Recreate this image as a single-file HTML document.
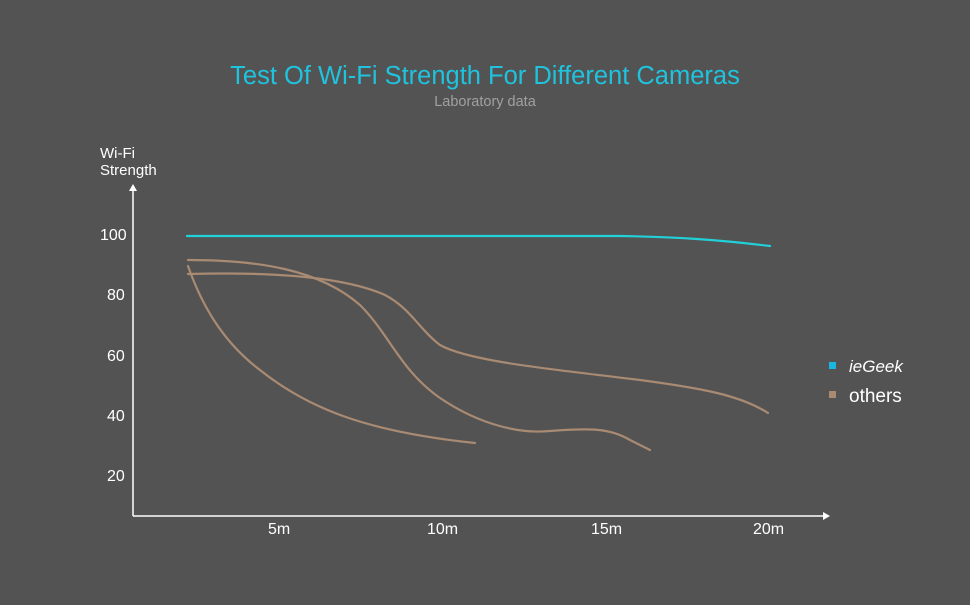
<!DOCTYPE html>
<html><head><style>
body{margin:0;width:970px;height:600px;background:#535353;font-family:"Liberation Sans",sans-serif;overflow:hidden}
</style></head><body>
<svg width="970" height="600" xmlns="http://www.w3.org/2000/svg" font-family="Liberation Sans, sans-serif">
<rect width="970" height="600" fill="#535353"/>
<text x="485" y="84" text-anchor="middle" fill="#1fc3dd" font-size="25.5">Test Of Wi-Fi Strength For Different Cameras</text>
<text x="485" y="106" text-anchor="middle" fill="#a0a0a0" font-size="14.5">Laboratory data</text>
<text x="100" y="158" fill="#fff" font-size="15">Wi-Fi</text>
<text x="100" y="175" fill="#fff" font-size="15">Strength</text>
<g fill="#fff" font-size="16">
<text x="100" y="240">100</text><text x="107" y="300">80</text><text x="107" y="361">60</text><text x="107" y="421">40</text><text x="107" y="481">20</text>
<text x="268" y="534">5m</text><text x="427" y="534">10m</text><text x="591" y="534">15m</text><text x="753" y="534">20m</text>
</g>
<g stroke="#fff" stroke-width="1.5" fill="none">
<line x1="133" y1="190" x2="133" y2="516"/><line x1="133" y1="516" x2="824" y2="516"/>
</g>
<polygon points="133,184 129,191 137,191" fill="#fff"/>
<polygon points="830,516 823,512 823,520" fill="#fff"/>
<g fill="none" stroke-width="2.2" stroke-linecap="round">
<path d="M187,236 L620,236 C680,237 720,240 770,246" stroke="#22d0d8"/>
<g stroke="#a98a72">
<path d="M188,260 C260,260 320,270 360,305 C390,335 400,370 440,398 C480,425 520,434 550,431 C590,428 610,428 630,440 L650,450"/>
<path d="M188,274 C260,272 340,275 385,295 C410,308 420,330 440,345 C470,362 560,370 640,380 C700,388 740,395 768,413"/>
<path d="M188,266 C200,300 220,340 260,370 C310,410 370,432 475,443"/>
</g>
</g>
<rect x="829" y="362" width="7" height="7" fill="#1ab8e0"/>
<text x="849" y="372" fill="#fff" font-size="17" font-style="italic">ieGeek</text>
<rect x="829" y="391" width="7" height="7" fill="#a98a72"/>
<text x="849" y="402" fill="#fff" font-size="19">others</text>
</svg>
</body></html>
